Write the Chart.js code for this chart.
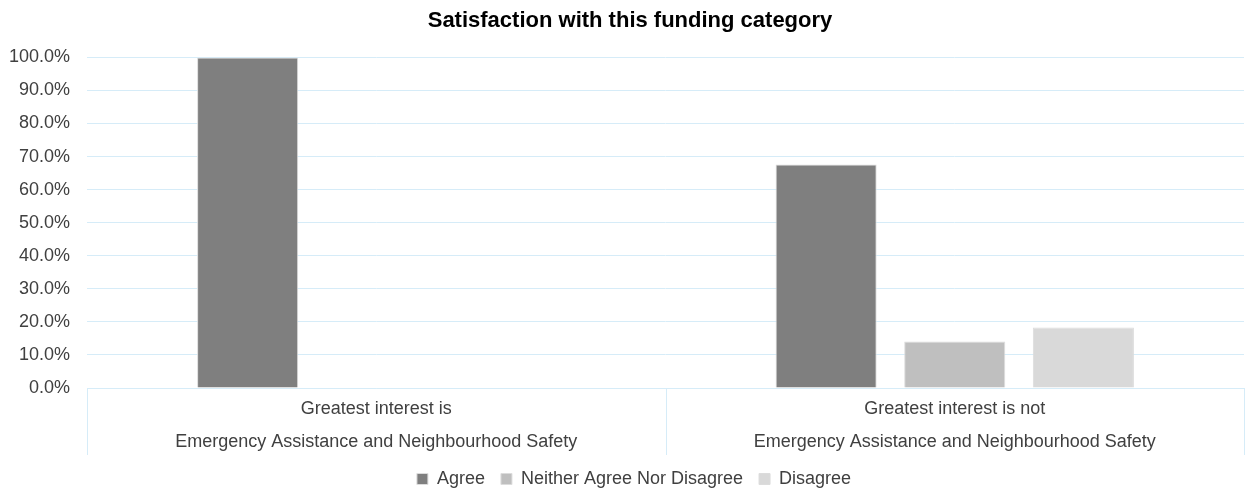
<!DOCTYPE html>
<html>
<head>
<meta charset="utf-8">
<script src="https://cdn.jsdelivr.net/npm/chart.js@4/dist/chart.umd.min.js"></script>
<style>
  html, body { margin: 0; padding: 0; background: #fff; }
  #wrap { width: 1249px; height: 489px; }
</style>
</head>
<body>
<div id="wrap"><canvas id="chart" width="1249" height="489"></canvas></div>
<script>
  // data
  const categories = [
    ["Greatest interest is", "Emergency Assistance and Neighbourhood Safety"],
    ["Greatest interest is not", "Emergency Assistance and Neighbourhood Safety"]
  ];
  const seriesNames = ["Agree", "Neither Agree Nor Disagree", "Disagree"];
  const agree = [100.0, 67.6];
  const neither = [0.0, 14.1];
  const disagree = [0.0, 18.3];
  const yTicks = [0, 10, 20, 30, 40, 50, 60, 70, 80, 90, 100];

  const colors = ["#7f7f7f", "#bfbfbf", "#d9d9d9"];
  const gridColor = "#d6ecf8";
  const font = "'Liberation Sans', Arial, sans-serif";

  const ctx = document.getElementById("chart").getContext("2d");

  const mkSet = (label, data, i) => ({
    label, data,
    backgroundColor: colors[i],
    borderColor: "#dcdcdc",
    borderWidth: 1,
    barPercentage: 0.786,
    categoryPercentage: 0.667
  });

  // category separators below the axis (Excel style box)
  const catBoxes = {
    id: "catBoxes",
    afterLayout(chart) {
      // title and legend sit a bit right of centre in the original
      chart.titleBlock.left += 8; chart.titleBlock.right += 8;
      chart.legend.left += 12; chart.legend.right += 12;
    },
    afterDraw(chart) {
      const x = chart.scales.x;
      const c = chart.ctx;
      const n = x.ticks.length;
      const pts = [chart.chartArea.left];
      for (let i = 0; i < n - 1; i++) {
        pts.push((x.getPixelForTick(i) + x.getPixelForTick(i + 1)) / 2);
      }
      pts.push(chart.chartArea.right);
      c.save();
      c.strokeStyle = gridColor;
      c.lineWidth = 1;
      pts.forEach(p => {
        const px = Math.round(p) + 0.5;
        c.beginPath();
        c.moveTo(px, x.top);
        c.lineTo(px, x.top + 67);
        c.stroke();
      });
      c.restore();
    }
  };

  new Chart(ctx, {
    type: "bar",
    data: {
      labels: categories,
      datasets: [
        mkSet(seriesNames[0], agree, 0),
        mkSet(seriesNames[1], neither, 1),
        mkSet(seriesNames[2], disagree, 2)
      ]
    },
    plugins: [catBoxes],
    options: {
      responsive: false,
      animation: false,
      layout: { padding: { left: 0, right: 5, top: 0, bottom: -9 } },
      plugins: {
        title: {
          display: true,
          text: "Satisfaction with this funding category",
          color: "#000",
          font: { family: font, size: 22, weight: "bold" },
          padding: { top: 8, bottom: 23 }
        },
        legend: {
          position: "bottom",
          labels: {
            boxWidth: 11, boxHeight: 11,
            color: "#404040",
            font: { family: font, size: 18 },
            padding: 16
          }
        },
        tooltip: { enabled: false }
      },
      scales: {
        x: {
          grid: { display: false },
          border: { color: gridColor },
          afterFit: s => { s.height = 66; },
          ticks: {
            color: "#404040",
            font: { family: font, size: 18, lineHeight: 1.833 },
            padding: -3,
            maxRotation: 0
          }
        },
        y: {
          min: 0, max: 100,
          afterBuildTicks: s => { s.ticks = yTicks.map(v => ({ value: v })); },
          afterFit: s => { s.width = 87; },
          grid: { color: gridColor, drawTicks: false },
          border: { display: false },
          ticks: {
            color: "#404040",
            font: { family: font, size: 18 },
            padding: 17,
            callback: v => v.toFixed(1) + "%"
          }
        }
      }
    }
  });
</script>
</body>
</html>
